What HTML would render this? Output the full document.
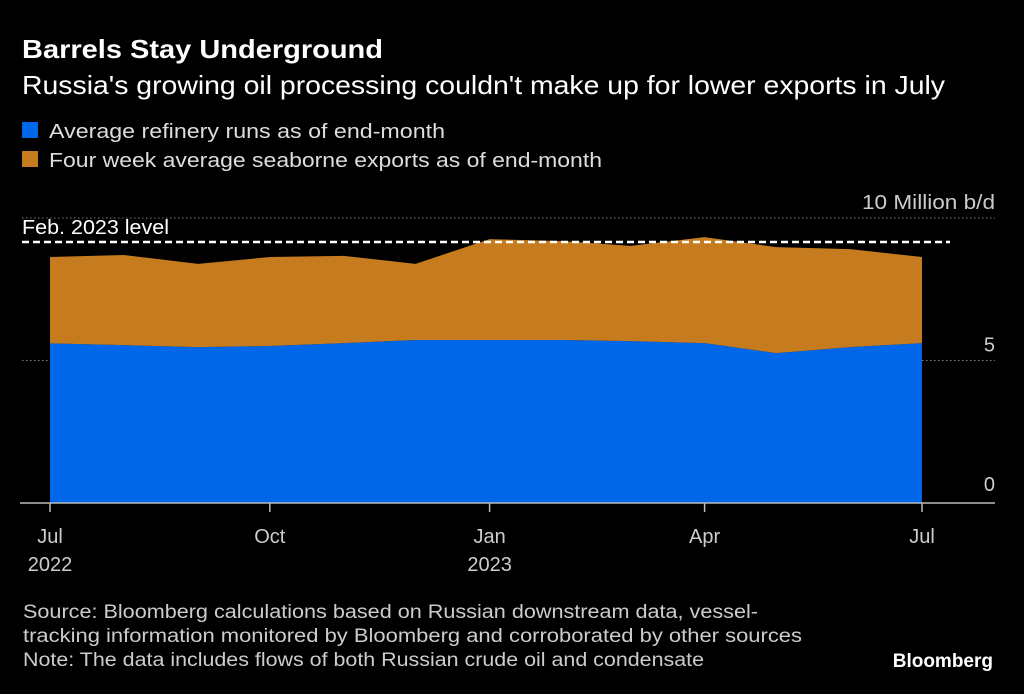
<!DOCTYPE html>
<html><head><meta charset="utf-8"><style>
body{margin:0;background:#000;width:1024px;height:694px;overflow:hidden;font-family:"Liberation Sans",sans-serif;color:#fff}
svg{position:absolute;left:0;top:0}
</style></head><body>
<svg width="1024" height="694">
<text x="22" y="58" font-size="26" font-weight="bold" fill="#fff" textLength="361" lengthAdjust="spacingAndGlyphs">Barrels Stay Underground</text>
<text x="22" y="94" font-size="26" fill="#fff" textLength="923" lengthAdjust="spacingAndGlyphs">Russia's growing oil processing couldn't make up for lower exports in July</text>
<rect x="22" y="122" width="16" height="16" fill="#0068e8"/>
<text x="49" y="138" font-size="20" fill="#ddd" textLength="396" lengthAdjust="spacingAndGlyphs">Average refinery runs as of end-month</text>
<rect x="22" y="151" width="16" height="16" fill="#c77b1f"/>
<text x="49" y="167" font-size="20" fill="#ddd" textLength="553" lengthAdjust="spacingAndGlyphs">Four week average seaborne exports as of end-month</text>
<g id="grid"></g><g id="areas"></g><g id="axis"></g>
<g font-size="19" fill="#ccc">
<text x="23" y="618" textLength="735" lengthAdjust="spacingAndGlyphs">Source: Bloomberg calculations based on Russian downstream data, vessel-</text>
<text x="23" y="642" textLength="779" lengthAdjust="spacingAndGlyphs">tracking information monitored by Bloomberg and corroborated by other sources</text>
<text x="23" y="666" textLength="681" lengthAdjust="spacingAndGlyphs">Note: The data includes flows of both Russian crude oil and condensate</text>
</g>
<text x="993" y="667" font-size="19" font-weight="bold" fill="#fff" text-anchor="end">Bloomberg</text>
</svg>
<script>
const dates=["2022-07-01","2022-08-01","2022-09-01","2022-10-01","2022-11-01","2022-12-01","2023-01-01","2023-02-01","2023-03-01","2023-04-01","2023-05-01","2023-06-01","2023-07-01"];
const refinery=[5.6,5.54,5.47,5.51,5.61,5.72,5.72,5.72,5.68,5.61,5.26,5.47,5.61];
const exports=[3.03,3.16,2.92,3.12,3.06,2.67,3.54,3.47,3.34,3.72,3.72,3.44,3.02];
const febLevel=9.16;
const yTicks=[0,5,10];
const xTicks=[["2022-07-01","Jul","2022"],["2022-10-01","Oct",""],["2023-01-01","Jan","2023"],["2023-04-01","Apr",""],["2023-07-01","Jul",""]];
const NS="http://www.w3.org/2000/svg";
const t0=Date.parse(dates[0]),t1=Date.parse(dates[dates.length-1]);
const x=d=>50+(Date.parse(d)-t0)/(t1-t0)*872;
const y=v=>503-v*28.5;
function mk(tag,attrs,parent){const e=document.createElementNS(NS,tag);for(const k in attrs)e.setAttribute(k,attrs[k]);document.getElementById(parent).appendChild(e);return e;}
yTicks.forEach(v=>{
 if(v>0){const l=mk('line',{x1:22,x2:995,y1:y(v),y2:y(v),stroke:'#777','stroke-dasharray':'1.5 2.5'},'grid');
 
 }
 const t=mk('text',{x:995,y:v==0?y(v)-12:y(v)-9,'font-size':20,fill:'#ccc','text-anchor':'end'},'grid');
 t.textContent=v==10?'10 Million b/d':String(v);
 if(v==10){t.setAttribute('textLength',133);t.setAttribute('lengthAdjust','spacingAndGlyphs');}
 
 
});
const tot=refinery.map((r,i)=>r+exports[i]);
let p1=dates.map((d,i)=>x(d)+','+y(refinery[i])).join(' ');
const blue=mk('polygon',{points:x(dates[0])+','+y(0)+' '+p1+' '+x(dates[12])+','+y(0),fill:'#0068e8'},'areas');


let p2=dates.map((d,i)=>x(d)+','+y(tot[i])).join(' ')+' '+dates.slice().reverse().map((d,j)=>x(d)+','+y(refinery[12-j])).join(' ');
const org=mk('polygon',{points:p2,fill:'#c77b1f'},'areas');


const fl=mk('line',{x1:22,x2:950,y1:y(febLevel),y2:y(febLevel),stroke:'#fff','stroke-width':2.5,'stroke-dasharray':'7 4'},'areas');


const ft=mk('text',{x:22,y:y(febLevel)-8,'font-size':20,fill:'#fff',textLength:147,lengthAdjust:'spacingAndGlyphs'},'areas');
ft.textContent='Feb. 2023 level';


const ax=mk('line',{x1:20,x2:995,y1:503,y2:503,stroke:'#bbb','stroke-width':1.5},'axis');


xTicks.forEach(([d,m,yr])=>{
 const tk=mk('line',{x1:x(d),x2:x(d),y1:503,y2:512,stroke:'#bbb','stroke-width':1.5},'axis');
 
 
 const t=mk('text',{x:x(d),y:543,'font-size':20,fill:'#ccc','text-anchor':'middle'},'axis');
 t.textContent=m;
 
 
 if(yr){const t2=mk('text',{x:x(d),y:571,'font-size':20,fill:'#ccc','text-anchor':'middle'},'axis');
 t2.textContent=yr;
 
 }
});
</script>
</body></html>
